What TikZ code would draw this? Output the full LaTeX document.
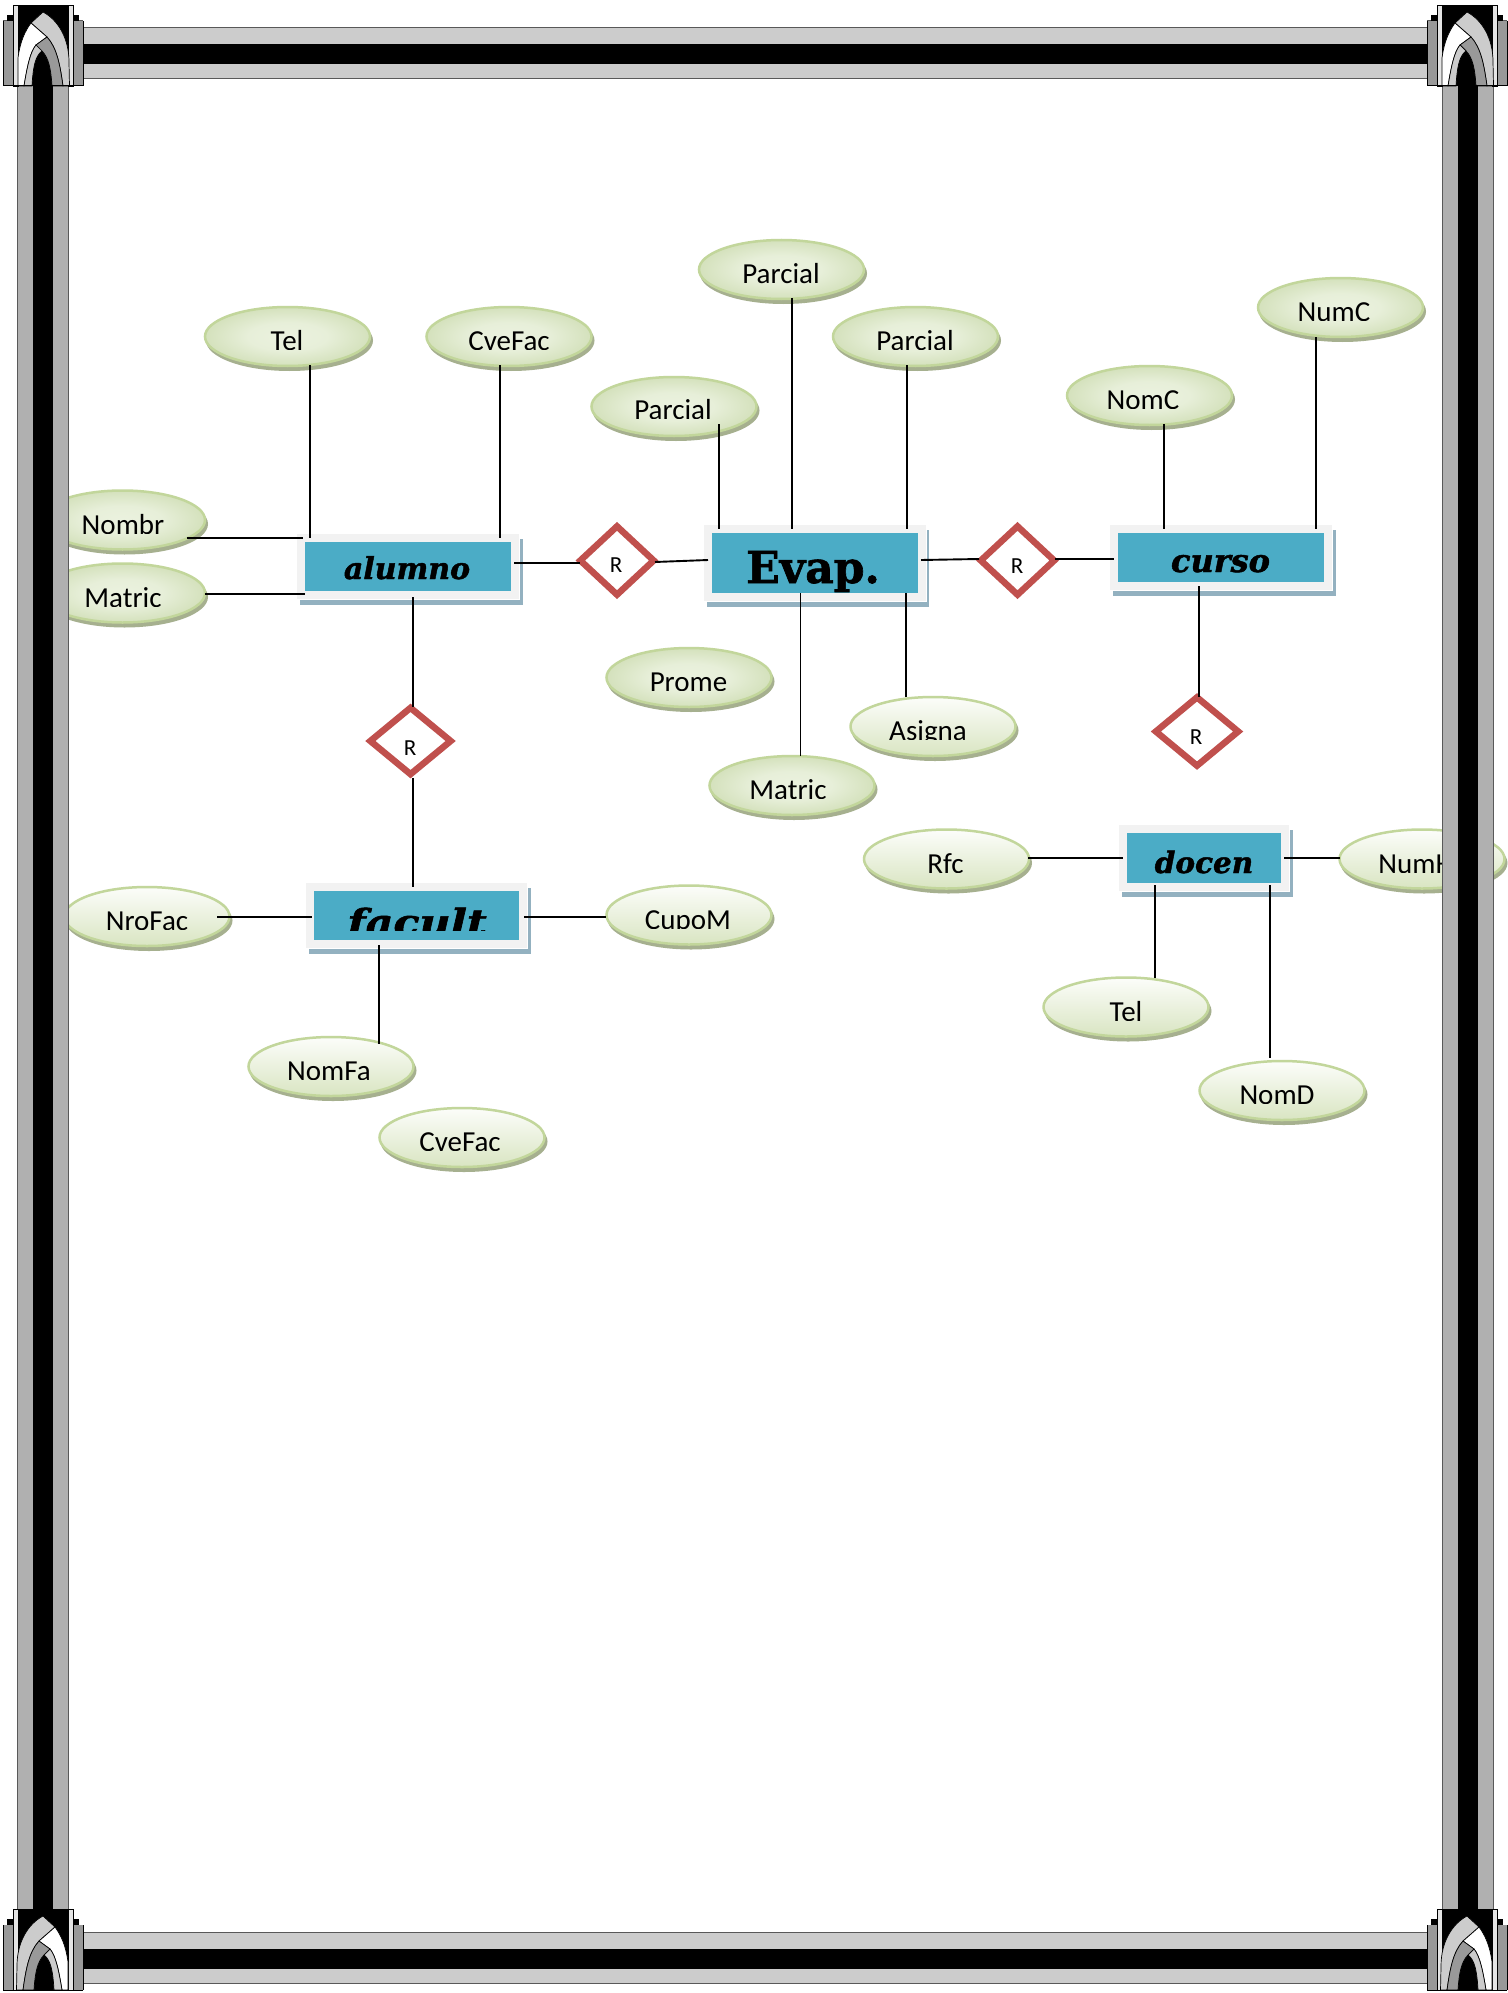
\documentclass[tikz,border=0pt]{standalone}
\usepackage{fontspec}
\setmainfont{Carlito}
\newfontfamily\entBI[FakeBold=1.5]{DejaVu Serif Bold Italic}
\newfontfamily\entB[FakeBold=1.5]{DejaVu Serif Bold}
\usetikzlibrary{shapes.geometric}
\definecolor{entblue}{HTML}{4BACC6}
\definecolor{entframe}{HTML}{F2F2F2}
\definecolor{entshadow}{HTML}{93B1C0}
\definecolor{attrline}{HTML}{C2D69B}
\definecolor{attrshadow}{HTML}{A6B08F}
\definecolor{relred}{HTML}{C0504D}
\definecolor{attrAa}{HTML}{EBF2DF}
\definecolor{attrAm}{HTML}{E7EFD9}
\definecolor{attrAb}{HTML}{D4E1BC}
\definecolor{attrBa}{HTML}{FCFDFA}
\definecolor{attrBb}{HTML}{D9E5C2}
\pgfdeclareradialshading{attrglow}{\pgfpoint{0bp}{0bp}}{color(0bp)=(attrAa); color(12bp)=(attrAm); color(25bp)=(attrAb); color(50bp)=(attrAb)}
\tikzset{
  attrbase/.style={ellipse,draw=attrline,line width=2.5pt,inner sep=0pt,minimum width=165pt,minimum height=59pt},
  attrA/.style={attrbase,shading=attrglow},
  attrB/.style={attrbase,top color=attrBa,bottom color=attrBb},
  attrtext/.style={anchor=base,inner sep=0pt,text=black,font=\fontsize{29}{31}\selectfont},
  reltext/.style={anchor=base,inner sep=0pt,text=black,font=\fontsize{23}{25}\selectfont},
  enttext/.style={anchor=base,inner sep=0pt,text=black},
  relshape/.style={diamond,draw=relred,fill=white,line width=6.5pt,inner sep=0pt},
  entshape/.style={rectangle,fill=entblue,inner sep=0pt},
  conn/.style={draw=black,line width=1.9pt},
  barline/.style={draw=black!65,line width=1pt},
}
% name, cx, cy, style, text x, text cap top, text
\newcommand{\attrnode}[7]{%
  \fill[attrshadow,shift={(2,4)}] (#2,#3) ellipse [x radius=83.5,y radius=30.5];
  \node[#4] (#1) at (#2,#3) {};
  \begin{scope}
    \clip (#5-130,#6-10) rectangle (#5+130,#6+17.5);
    \node[attrtext] (#1-t) at (#5,#6+18) {#7};
  \end{scope}
}
% name, blue x0,y0,x1,y1, text x, baseline, clip y, font+text
\newcommand{\entnode}[9]{%
  \fill[entshadow] (#2-5,#3-3) rectangle (#4+11.5,#5+14);
  \fill[white] (#2-6,#3-4) rectangle (#4+9,#5+9);
  \fill[entframe] (#2-8,#3-8) rectangle (#4+8,#5+8);
  \node[entshape,minimum width=#4pt-#2pt,minimum height=#5pt-#3pt] (#1) at ({(#2+#4)/2},{(#3+#5)/2}) {};
  \begin{scope}
    \clip (#2,#3) rectangle (#4,#8);
    \entlabel{#1}{#6}{#7}{#9}
  \end{scope}
}
\newcommand{\entlabel}[4]{\node[enttext] (#1-t) at (#2,#3) {#4};}
% name, cx, cy, w, h, text x, cap top
\newcommand{\relnode}[7]{%
  \node[relshape,minimum width=#4pt,minimum height=#5pt] (#1) at (#2,#3) {};
  \begin{scope}
    \clip (#6-30,#7-6) rectangle (#6+30,#7+13.5);
    \node[reltext] (#1-t) at (#6,#7+14.5) {R};
  \end{scope}
}
\newcommand{\cornerart}{%
  \fill[black!65] (3,20.5) rectangle (83,86.5);
  \fill[black!40] (3.5,21) rectangle (13,85.5);
  \fill[black!40] (73,21) rectangle (82.5,85.5);
  \fill[black] (7,15) rectangle (79,21);
  \fill[black] (13,5) rectangle (73,86);
  \draw[black,line width=0.8pt,fill=black!10] (13,5) rectangle (18,86);
  \draw[black,line width=0.8pt,fill=black!10] (68,5) rectangle (73,86);
  \draw[black,line width=0.7pt,fill=black!20] (43,12) .. controls (58,20) and (69,38) .. (69,62) -- (69.5,86) -- (63,86) .. controls (60,65) and (57,48) .. (47,37) -- (31,23) -- cycle;
  \draw[black,line width=0.7pt,fill=white] (31,23) -- (47,37) -- (36,45) .. controls (30,52) and (27,68) .. (24,86) -- (18,86) -- (18,58) .. controls (20,42) and (25,31) .. (31,23) -- cycle;
  \draw[black,line width=0.7pt,fill=black!40] (47,37) .. controls (57,48) and (60,65) .. (63,86) -- (52,86) .. controls (51,70) and (49,58) .. (42,51) -- (36,45) -- cycle;
  \draw[black,line width=0.7pt,fill=black!20] (36,45) -- (42,51) .. controls (35,56) and (33,68) .. (32,86) -- (24,86) .. controls (27,68) and (30,52) .. (36,45) -- cycle;
  \draw[black,line width=1pt] (3,86) -- (83,86);
  \draw[black,line width=0.8pt] (3,21) -- (3,86) (83,21) -- (83,86) (13,5) -- (73,5);
}
\newcommand{\hbarr}[1]{%
  \fill[black!20] (83,#1) rectangle (1427,#1+50.5);
  \fill[black] (83,#1+16) rectangle (1427,#1+36.5);
  \draw[barline] (83,#1) -- (1427,#1) (83,#1+50.5) -- (1427,#1+50.5);
}
\newcommand{\vbarr}[1]{%
  \fill[black!31] (#1,86) rectangle (#1+51,1910);
  \fill[black] (#1+16,86) rectangle (#1+36,1910);
  \draw[barline] (#1,86) -- (#1,1910) (#1+51,86) -- (#1+51,1910);
}
\begin{document}
\begin{tikzpicture}[x=1pt,y=-1pt]
\useasboundingbox (0,0) rectangle (1507,1993);
\fill[white] (0,0) rectangle (1507,1993);

% attributes
\attrnode{tel}{287.5}{336.5}{attrA}{287}{332}{Tel}
\attrnode{cvefac}{509}{336.5}{attrA}{509}{332}{CveFac}
\attrnode{parcA}{674}{406.5}{attrA}{673}{401}{Parcial}
\attrnode{parcB}{781.5}{269.5}{attrA}{781}{265.5}{Parcial}
\attrnode{parcC}{915.5}{336.5}{attrA}{915}{332}{Parcial}
\attrnode{nomc}{1149.5}{395.5}{attrA}{1143}{391}{NomC}
\attrnode{numc}{1340.5}{307.5}{attrA}{1334}{303}{NumC}
\attrnode{nombr}{122.5}{520}{attrA}{123}{516}{Nombr}
\attrnode{matric}{122.5}{593}{attrA}{123}{589}{Matric}
\attrnode{prome}{689}{677.5}{attrA}{688.5}{673}{Prome}
\attrnode{matricB}{792}{785.5}{attrA}{788}{781}{Matric}
\attrnode{asigna}{933}{726.5}{attrB}{928}{722}{Asigna}
\attrnode{nrofac}{147}{916.5}{attrB}{147}{912}{NroFac}
\attrnode{cupom}{689}{915}{attrB}{688}{911}{CupoM}
\attrnode{nomfa}{331}{1066.5}{attrB}{329}{1062}{NomFa}
\attrnode{cvefacB}{462}{1137.5}{attrB}{460}{1133}{CveFac}
\attrnode{rfc}{946.5}{859}{attrB}{945.5}{855}{Rfc}
\attrnode{numh}{1422}{859}{attrB}{1416}{855}{NumH}
\attrnode{telB}{1126}{1007}{attrB}{1126}{1003}{Tel}
\attrnode{nomd}{1282}{1090.5}{attrB}{1277}{1086}{NomD}

% entities
\entnode{alumno}{305}{542}{511}{591}{407}{579}{591}{\entBI\fontsize{30}{32}\selectfont alumno}
\entnode{evap}{712}{533}{917.5}{593}{813}{583}{593}{\entB\fontsize{44}{46}\selectfont Evap.}
\entnode{curso}{1118}{533}{1324}{582}{1220.5}{572}{582}{\entBI\fontsize{32}{34}\selectfont curso}
\entnode{facult}{314}{891}{519}{940}{417}{935}{930}{\scalebox{1.19}[1]{\entBI\fontsize{36}{38}\selectfont facult}}
\entnode{docen}{1127}{833}{1281}{883}{1204}{873}{883}{\entBI\fontsize{29.5}{31}\selectfont docen}

% relationships
\relnode{rA}{617}{560.5}{76}{71}{616}{557.5}
\relnode{rB}{1017.5}{560.5}{76}{71}{1017}{559}
\relnode{rC}{410.5}{741}{83}{69}{410}{741}
\relnode{rD}{1197}{731.5}{85}{71}{1196}{730}

% connectors
\draw[conn] ([shift={(22.5,28.5)}]tel.center) -- ([shift={(-98,-28.5)}]alumno.center);
\draw[conn] ([shift={(-9,28.5)}]cvefac.center) -- ([shift={(92,-28.5)}]alumno.center);
\draw[conn] ([shift={(64.5,18)}]nombr.center) -- ([shift={(-105,-28.5)}]alumno.center);
\draw[conn] ([shift={(82.5,1)}]matric.center) -- ([shift={(-103,27.5)}]alumno.center);
\draw[conn] ([shift={(106,-3.5)}]alumno.center) -- ([shift={(-37,2.5)}]rA.center);
\draw[conn] ([shift={(38,1.5)}]rA.center) -- ([shift={(-106.75,-3)}]evap.center);
\draw[conn] ([shift={(106.25,-3)}]evap.center) -- ([shift={(-38.5,-1.5)}]rB.center);
\draw[conn] ([shift={(37.5,-1.5)}]rB.center) -- ([shift={(-107,1.5)}]curso.center);
\draw[conn] ([shift={(-22,28.5)}]curso.center) -- ([shift={(2,-34.5)}]rD.center);
\draw[conn] ([shift={(45,17.5)}]parcA.center) -- ([shift={(-95.75,-34)}]evap.center);
\draw[conn] ([shift={(10.5,28.5)}]parcB.center) -- ([shift={(-22.75,-34)}]evap.center);
\draw[conn] ([shift={(-8.5,28.5)}]parcC.center) -- ([shift={(92.25,-34)}]evap.center);
\draw[conn] ([shift={(14.5,28.5)}]nomc.center) -- ([shift={(-57,-28.5)}]curso.center);
\draw[conn] ([shift={(-24.5,29.5)}]numc.center) -- ([shift={(95,-28.5)}]curso.center);
\draw[conn] ([shift={(-14.25,30)}]evap.center) -- ([shift={(8.5,-29.5)}]matricB.center);
\draw[conn] ([shift={(91.25,30)}]evap.center) -- ([shift={(-27,-29.5)}]asigna.center);
\draw[conn] ([shift={(5,30.5)}]alumno.center) -- ([shift={(2.5,-34)}]rC.center);
\draw[conn] ([shift={(2.5,37)}]rC.center) -- ([shift={(-3.5,-28.5)}]facult.center);
\draw[conn] ([shift={(70,0.5)}]nrofac.center) -- ([shift={(-104.5,1.5)}]facult.center);
\draw[conn] ([shift={(107.5,1.5)}]facult.center) -- ([shift={(-83,2)}]cupom.center);
\draw[conn] ([shift={(-37.5,29.5)}]facult.center) -- ([shift={(48,-22.5)}]nomfa.center);
\draw[conn] ([shift={(81.5,-1)}]rfc.center) -- ([shift={(-81,0)}]docen.center);
\draw[conn] ([shift={(80,0)}]docen.center) -- ([shift={(-82,-1)}]numh.center);
\draw[conn] ([shift={(-49,27)}]docen.center) -- ([shift={(29,-29)}]telB.center);
\draw[conn] ([shift={(66,27)}]docen.center) -- ([shift={(-12,-32.5)}]nomd.center);

% page border
\hbarr{28}
\hbarr{1932.5}
\vbarr{17}
\vbarr{1442}
\begin{scope}\cornerart\end{scope}
\begin{scope}[shift={(1424,0)}]\cornerart\end{scope}
\begin{scope}[shift={(86,1904)},xscale=-1]\cornerart\end{scope}
\begin{scope}[shift={(1510,1904)},xscale=-1]\cornerart\end{scope}
\end{tikzpicture}
\end{document}
